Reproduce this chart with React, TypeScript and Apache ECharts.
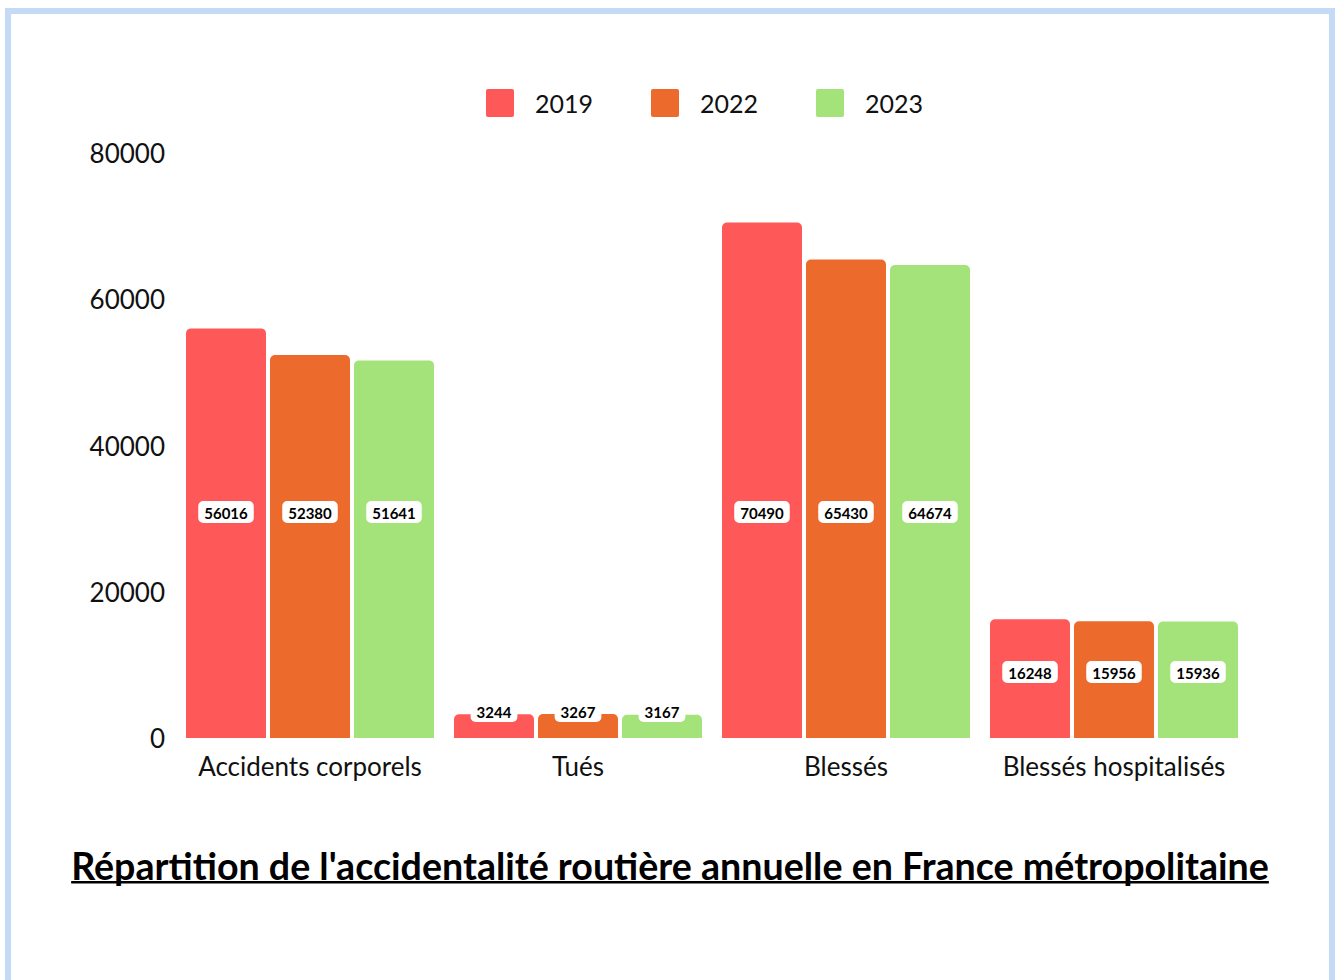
import React, { useEffect, useRef } from "react";
import * as echarts from "echarts";

const categories = ["Accidents corporels", "Tués", "Blessés", "Blessés hospitalisés"];
const years = ["2019", "2022", "2023"];
const values2019 = [56016, 3244, 70490, 16248];
const values2022 = [52380, 3267, 65430, 15956];
const values2023 = [51641, 3167, 64674, 15936];
const yTicks = [0, 20000, 40000, 60000, 80000];
const titleText = "Répartition de l'accidentalité routière annuelle en France métropolitaine";

const colors = ["#FF5858", "#EC6A2C", "#A3E37A"];
// label centre height above the axis, in px (layout)
const labelLiftPx = [226, 27, 226, 66];
const FONT = "Lato, 'Noto Sans', sans-serif";

export default function App() {
  const ref = useRef<HTMLDivElement>(null);
  useEffect(() => {
    if (!ref.current) return;
    const chart = echarts.init(ref.current, null, { renderer: "svg" });
    const ctx = document.createElement("canvas").getContext("2d")!;
    ctx.font = `bold 33px Lato`;
    const w33 = ctx.measureText(titleText).width;
    const titleSize = Math.round((33 * 1198) / w33 * 10) / 10;
    ctx.font = `bold ${titleSize}px Lato`;
    const tw = ctx.measureText(titleText).width;
    const series = [values2019, values2022, values2023].map((vals, s) => ({
      name: years[s],
      type: "bar",
      barWidth: 80,
      barGap: "5%",
      itemStyle: { color: colors[s], borderRadius: [5, 5, 0, 0] },
      label: {
        show: true,
        position: "insideBottom",
        backgroundColor: "#ffffff",
        borderRadius: 5,
        padding: [4, 6, 3, 6],
        color: "#000",
        fontSize: 15,
        fontWeight: "bold",
        fontFamily: FONT,
      },
      data: vals.map((v, i) => ({ value: v, label: { distance: labelLiftPx[i] - 11 } })),
    }));
    chart.setOption({
      animation: false,
      backgroundColor: "transparent",
      legend: {
        left: 481,
        top: 84,
        itemWidth: 28,
        itemHeight: 28,
        itemGap: 58,
        icon: "path://M2,0H26A2,2 0 0 1 28,2V26A2,2 0 0 1 26,28H2A2,2 0 0 1 0,26V2A2,2 0 0 1 2,0Z",
        textStyle: { fontSize: 25, color: "#111", fontFamily: FONT, padding: [0, 0, 0, 16] },
        data: years,
      },
      grid: { left: 176, right: 90, top: 153, bottom: 242, containLabel: false },
      xAxis: {
        type: "category",
        data: categories,
        axisLine: { show: false },
        axisTick: { show: false },
        axisLabel: { fontSize: 26, color: "#111", fontFamily: FONT, margin: 15, interval: 0 },
      },
      yAxis: {
        type: "value",
        min: yTicks[0],
        max: yTicks[yTicks.length - 1],
        interval: yTicks[1] - yTicks[0],
        splitLine: { show: false },
        axisLine: { show: false },
        axisTick: { show: false },
        axisLabel: {
          fontSize: 26,
          color: "#111",
          fontFamily: FONT,
          margin: 11,
          formatter: (v: number) => String(v),
        },
      },
      series,
      graphic: [
        {
          type: "text",
          x: 670,
          y: 865,
          style: {
            text: titleText,
            fontSize: titleSize,
            fontWeight: "bold",
            fontFamily: FONT,
            fill: "#000",
            align: "center",
            verticalAlign: "middle",
          },
        },
        {
          type: "rect",
          shape: { x: 670 - tw / 2, y: 881, width: tw, height: 2.5 },
          style: { fill: "#000" },
        },
      ],
    });
    return () => chart.dispose();
  }, []);
  return (
    <div style={{ position: "fixed", left: 0, top: 0, width: 1338, height: 980, background: "#fff" }}>
      <div
        style={{
          position: "absolute",
          left: 5,
          top: 8,
          width: 1330,
          height: 1000,
          boxSizing: "border-box",
          border: "6px solid #C5DBF5",
        }}
      />
      <div ref={ref} style={{ position: "absolute", left: 0, top: 0, width: 1338, height: 980 }} />
    </div>
  );
}
